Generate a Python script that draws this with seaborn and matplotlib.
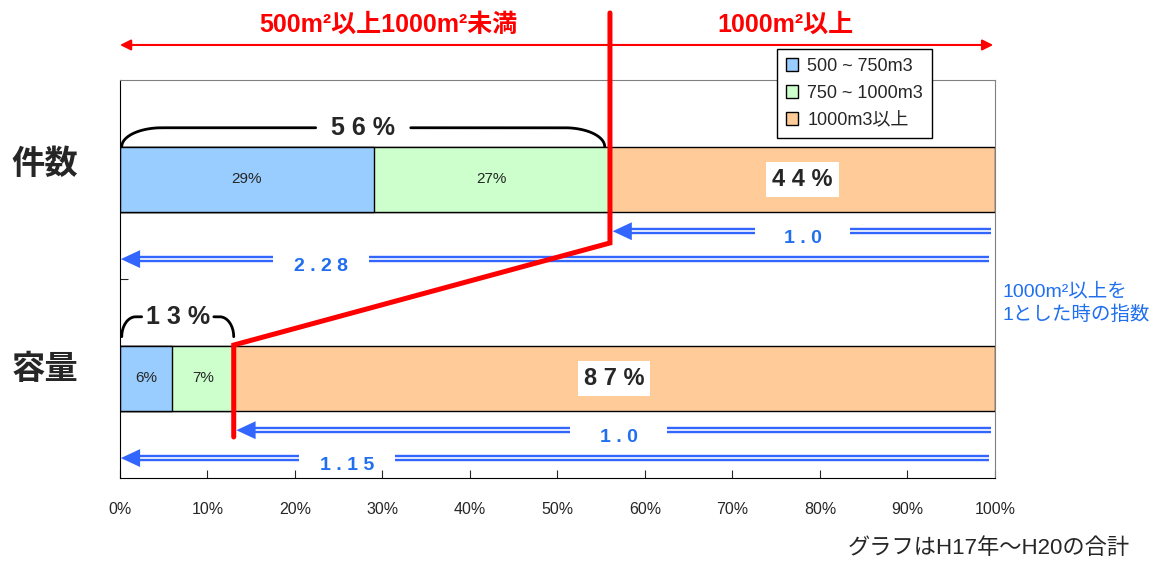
import numpy as np
import pandas as pd
import seaborn as sns
import matplotlib.pyplot as plt
from matplotlib.patches import Patch, Polygon

# データ
categories = ["件数", "容量"]
segments = ["500 ~ 750m3", "750 ~ 1000m3", "1000m3以上"]
share_500_750 = [29, 6]
share_750_1000 = [27, 7]
share_1000 = [44, 87]
index_large = ["1.0", "1.0"]          # 1000m2以上を1とした時
index_small = ["2.28", "1.15"]        # 500m2以上1000m2未満
seg_colors = ["#99CCFF", "#CCFFCC", "#FFCC99"]

sns.set_style("ticks")
plt.rcParams["font.family"] = ["Liberation Sans", "Noto Sans CJK JP"]

fig = plt.figure(figsize=(11.66, 5.61), dpi=100)
ax = fig.add_axes([0.1029, 0.148, 0.7504, 0.7094])

# 積み上げ棒 (累積値を大きい順に重ねる)
cum1 = np.array(share_500_750)
cum2 = cum1 + np.array(share_750_1000)
cum3 = cum2 + np.array(share_1000)
df = pd.DataFrame({
    "cat": categories * 3,
    "seg": [segments[2]] * 2 + [segments[1]] * 2 + [segments[0]] * 2,
    "val": list(cum3) + list(cum2) + list(cum1),
})
sns.barplot(data=df, y="cat", x="val", hue="seg", order=categories,
            hue_order=[segments[2], segments[1], segments[0]],
            palette={segments[0]: seg_colors[0], segments[1]: seg_colors[1], segments[2]: seg_colors[2]},
            dodge=False, width=0.33, edgecolor="black", linewidth=1, saturation=1,
            legend=False, ax=ax, zorder=2)

ax.set_xlim(0, 100)
ax.set_ylim(1.5, -0.5)
ax.set_xlabel("")
ax.set_ylabel("")
ax.set_xticks(range(0, 101, 10))
ax.set_xticklabels([f"{t}%" for t in range(0, 101, 10)], fontsize=11.5)
ax.set_yticks([0.5])
ax.set_yticklabels([""])
ax.tick_params(axis="x", direction="in", length=6, pad=17)
ax.tick_params(axis="y", direction="in", length=6)
for s in ["top", "right"]:
    ax.spines[s].set_visible(True)
    ax.spines[s].set_color("#808080")
for s in ["left", "bottom"]:
    ax.spines[s].set_color("black")

# 棒の中のラベル
for i in range(len(categories)):
    ax.text(share_500_750[i] / 2, i, f"{share_500_750[i]}%", ha="center", va="center", fontsize=11, zorder=3)
    ax.text(cum1[i] + share_750_1000[i] / 2, i, f"{share_750_1000[i]}%", ha="center", va="center", fontsize=11, zorder=3)
    ax.text(cum2[i] + share_1000[i] / 2, i, " ".join(f"{share_1000[i]}%"), ha="center", va="center",
            fontsize=17, fontweight="bold", zorder=3,
            bbox=dict(boxstyle="square,pad=0.25", facecolor="white", edgecolor="none"))


def bracket(x0, x1, y_top, y_bot, r, gap, label):
    t = np.linspace(np.pi, np.pi / 2, 20)
    lx = x0 + r + r * np.cos(t)
    ly = y_bot - (y_bot - y_top) * np.sin(t)
    mx = np.linspace(x0 + r, x1 - r, 200)
    my = np.full_like(mx, y_top)
    t2 = np.linspace(np.pi / 2, 0, 20)
    rx = x1 - r + r * np.cos(t2)
    ry = y_bot - (y_bot - y_top) * np.sin(t2)
    xs = np.concatenate([lx, mx, rx])
    ys = np.concatenate([ly, my, ry])
    mid = (x0 + x1) / 2
    ys = np.where(np.abs(xs - mid) < gap, np.nan, ys)
    ax.plot(xs, ys, color="black", lw=2, clip_on=False, zorder=3)
    ax.text(mid, y_top, label, ha="center", va="center", fontsize=18, fontweight="bold", zorder=3)


bracket(0.2, cum2[0] - 0.6, -0.26, -0.165, 4.6, 5.4, " ".join(f"{cum2[0]}%"))
bracket(0.2, cum2[1], 0.69, 0.79, 1.6, 4.1, " ".join(f"{cum2[1]}%"))

# 青い二重線の矢印
blue = "#3366FF"


def double_arrow(x_tip, x_end, y, label, lx, gap=5.4):
    xs = np.linspace(x_tip + 1.8, x_end, 400)
    ys = np.where(np.abs(xs - lx) < gap, np.nan, y)
    ax.plot(xs, ys, color=blue, lw=4.6, solid_capstyle="butt", clip_on=False, zorder=4)
    ax.plot(xs, ys, color="white", lw=1.2, solid_capstyle="butt", clip_on=False, zorder=4)
    ax.add_patch(Polygon([[x_tip, y], [x_tip + 2.2, y - 0.045], [x_tip + 2.2, y + 0.045]],
                         closed=True, facecolor=blue, edgecolor="none", clip_on=False, zorder=4))
    ax.text(lx, y + 0.035, " ".join(label), ha="center", va="center", fontsize=14, fontweight="bold",
            color="#1F6FEF", zorder=4)


label_x_large = [78, 57]
label_x_small = [23, 26]
for i in range(len(categories)):
    double_arrow(cum2[i] + 0.3, 99.5, i + 0.26, index_large[i], label_x_large[i])
    double_arrow(0.1, 99.3, i + 0.40, index_small[i], label_x_small[i])

# 赤い区切り線
ax.plot([cum2[0], cum2[0], cum2[1], cum2[1]], [-0.837, 0.319, 0.832, 1.294],
        color="red", lw=3.6, clip_on=False, zorder=5, solid_joinstyle="miter")

# 上部の赤い矢印と見出し
ax.annotate("", xy=(0, -0.676), xytext=(cum2[0], -0.676), annotation_clip=False,
            arrowprops=dict(arrowstyle="-|>", color="red", lw=1.5, mutation_scale=16, shrinkA=0, shrinkB=0))
ax.annotate("", xy=(99.8, -0.676), xytext=(cum2[0], -0.676), annotation_clip=False,
            arrowprops=dict(arrowstyle="-|>", color="red", lw=1.5, mutation_scale=16, shrinkA=0, shrinkB=0))
ax.text(30.7, -0.776, "500m²以上1000m²未満", ha="center", va="center", color="red",
        fontsize=18, fontweight="bold", clip_on=False)
ax.text(76, -0.776, "1000m²以上", ha="center", va="center", color="red",
        fontsize=18, fontweight="bold", clip_on=False)

# カテゴリ名
fig.text(0.0386, 0.706, categories[0], ha="center", va="center", fontsize=24, fontweight="bold")
fig.text(0.0386, 0.340, categories[1], ha="center", va="center", fontsize=24, fontweight="bold")

# 凡例
handles = [Patch(facecolor=c, edgecolor="black", linewidth=1) for c in seg_colors]
fig.legend(handles, segments, loc="upper left", bbox_to_anchor=(0.666, 0.913), frameon=True,
           fancybox=False, edgecolor="black", fontsize=13, handlelength=0.7, handleheight=0.7,
           handletextpad=0.5, labelspacing=0.55, borderpad=0.5, borderaxespad=0, framealpha=1)

# 注記
fig.text(0.860, 0.46, "1000m²以上を\n1とした時の指数", ha="left", va="center", color="#1F6FEF",
         fontsize=14, linespacing=1.35)
fig.text(0.969, 0.023, "グラフはH17年～H20の合計", ha="right", va="center", fontsize=16)

fig.savefig("out.png", dpi=100)
